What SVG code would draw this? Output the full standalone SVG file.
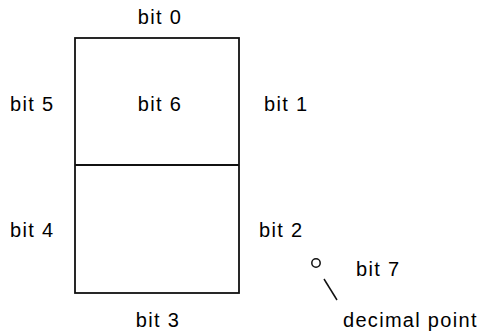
<svg xmlns="http://www.w3.org/2000/svg" width="478" height="333" viewBox="0 0 478 333">
<style>
text{font-family:"Liberation Sans",Arial,sans-serif;font-size:20px;fill:#000;letter-spacing:1.3px}
.box{fill:none;stroke:#111;stroke-width:1.8}
.c{text-anchor:middle}
</style>
<rect width="478" height="333" fill="#fff"/>
<g id="segments">
<rect class="box" x="75" y="38" width="164" height="255"/>
<line class="box" x1="75" y1="165" x2="239" y2="165"/>
</g>
<g id="dp">
<circle cx="316" cy="263" r="4.2" fill="none" stroke="#111" stroke-width="1.5"/>
<line x1="324" y1="279" x2="337" y2="300" stroke="#111" stroke-width="1.5"/>
</g>
<g id="labels">
<text class="c" x="160" y="24">bit 0</text>
<text class="c" x="160" y="111">bit 6</text>
<text x="10" y="111">bit 5</text>
<text x="264" y="111">bit 1</text>
<text x="10" y="237">bit 4</text>
<text x="259" y="237">bit 2</text>
<text x="356" y="276">bit 7</text>
<text class="c" x="158" y="327">bit 3</text>
<text x="343" y="327">decimal point</text>
</g>
</svg>
